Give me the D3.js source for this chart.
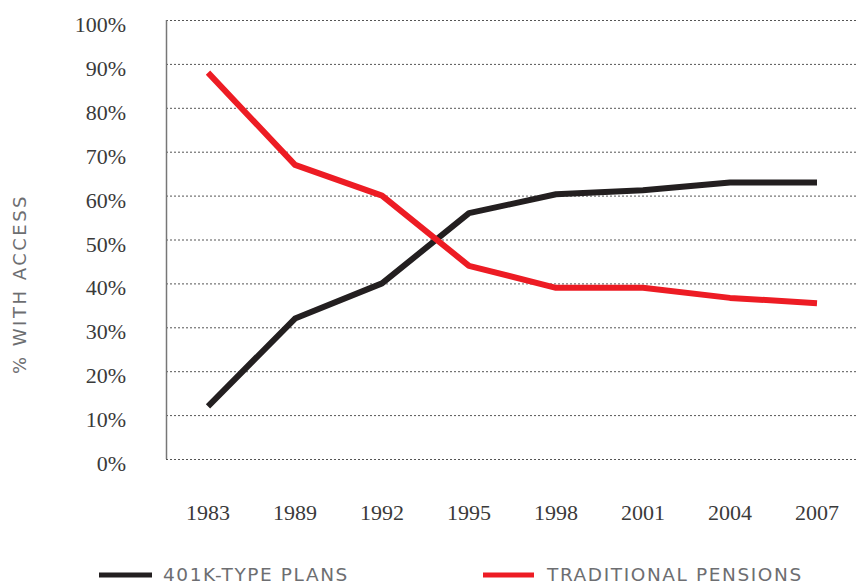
<!DOCTYPE html>
<html><head><meta charset="utf-8">
<script src="https://cdn.jsdelivr.net/npm/d3@7"></script>
<style>body{margin:0;background:#fff}</style>
</head><body>
<script>
const years = ["1983","1989","1992","1995","1998","2001","2004","2007"];
const plans401k = [12, 32, 40, 56, 60.3, 61.2, 63, 63];
const pensions = [88, 67, 60, 44, 39, 39, 36.7, 35.5];
const yTicks = [0,10,20,30,40,50,60,70,80,90,100];
const seriesNames = ["401K-TYPE PLANS","TRADITIONAL PENSIONS"];
const colors = ["#231f20","#ed1c24"];

const W = 858, H = 586;
const svg = d3.select("body").append("svg").attr("width", W).attr("height", H);
const x = d3.scalePoint().domain(years).range([208, 817]);
const y = d3.scaleLinear().domain([0,100]).range([459, 20]);

// gridlines
svg.append("g").selectAll("line").data(yTicks).join("line")
  .attr("x1",166).attr("x2",858)
  .attr("y1",d=>y(d)+0.5).attr("y2",d=>y(d)+0.5)
  .attr("stroke","#555").attr("stroke-width",1).attr("stroke-dasharray","2,2");
// axis line
svg.append("line").attr("x1",166.5).attr("x2",166.5).attr("y1",y(100)).attr("y2",y(0))
  .attr("stroke","#777").attr("stroke-width",1.5);

// y labels
svg.append("g").selectAll("text").data(yTicks).join("text")
  .attr("x",126).attr("y",d=>y(d)+12)
  .attr("text-anchor","end")
  .attr("font-family","Liberation Serif, serif").attr("font-size",22)
  .attr("fill","#3a3a3a").text(d=>d+"%");

// x labels
svg.append("g").selectAll("text").data(years).join("text")
  .attr("x",d=>x(d)).attr("y",520)
  .attr("text-anchor","middle")
  .attr("font-family","Liberation Serif, serif").attr("font-size",22)
  .attr("fill","#3a3a3a").text(d=>d);

// y title
svg.append("text").attr("transform","translate(26,284) rotate(-90)")
  .attr("text-anchor","middle")
  .attr("font-family","DejaVu Sans, sans-serif").attr("font-size",18)
  .attr("letter-spacing",2.5)
  .attr("fill","#6d6e71").text("% WITH ACCESS");

const line = d3.line().x((d,i)=>x(years[i])).y(d=>y(d));
[plans401k, pensions].forEach((s,i)=>{
  svg.append("path").datum(s).attr("d",line)
    .attr("fill","none").attr("stroke",colors[i]).attr("stroke-width",6)
    .attr("stroke-linejoin","round");
});

// legend
const leg = [{x1:99,x2:152,tx:163},{x1:483,x2:534,tx:547}];
leg.forEach((l,i)=>{
  svg.append("line").attr("x1",l.x1).attr("x2",l.x2).attr("y1",575).attr("y2",575)
    .attr("stroke",colors[i]).attr("stroke-width",5);
  svg.append("text").attr("x",l.tx).attr("y",581)
    .attr("font-family","DejaVu Sans, sans-serif").attr("font-size",18.5)
    .attr("letter-spacing",1.6)
    .attr("fill","#6d6e71").text(seriesNames[i]);
});
</script>
</body></html>
